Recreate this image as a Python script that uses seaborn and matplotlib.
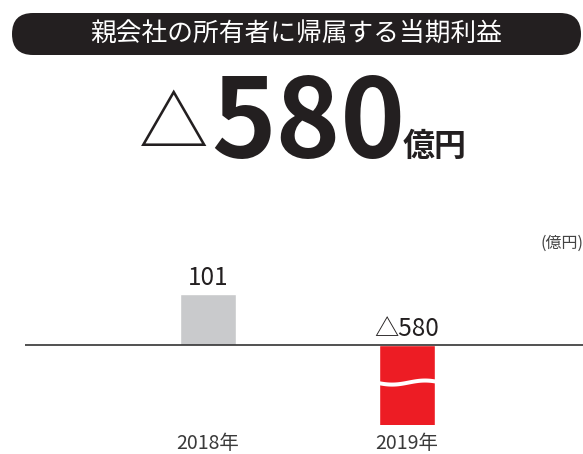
import matplotlib
matplotlib.use("Agg")
import matplotlib.pyplot as plt
from matplotlib.patches import FancyBboxPatch
import numpy as np
import pandas as pd
import seaborn as sns

# data
years = ["2018年", "2019年"]
values = [101, -580]
bar_colors = ["#c9cacc", "#ed1c24"]
title = "親会社の所有者に帰属する当期利益"
headline_value = "580"
headline_unit = "億円"
unit_label = "(億円)"

sns.set_theme(style="white")
plt.rcParams["font.family"] = ["Noto Sans CJK JP", "DejaVu Sans"]

DARK = "#231f20"
W, H = 583, 454
fig = plt.figure(figsize=(W / 100, H / 100), dpi=100)

# background layer in pixel coordinates for the header
bg = fig.add_axes([0, 0, 1, 1])
bg.set_xlim(0, W)
bg.set_ylim(H, 0)
bg.axis("off")

pill = FancyBboxPatch((12, 13), 569, 42,
                      boxstyle="round,pad=0,rounding_size=21",
                      mutation_aspect=1, fc=DARK, ec="none")
bg.add_patch(pill)
bg.text(296, 34, title, color="white", fontsize=18.5, ha="center", va="center")

bg.text(174, 127, "△", color=DARK, fontsize=50, ha="center", va="center")
bg.text(211, 157, headline_value, color=DARK, fontsize=79, fontweight="bold",
        ha="left", va="baseline")
bg.text(403, 156, headline_unit, color=DARK, fontsize=23, fontweight="bold",
        ha="left", va="baseline")
bg.text(583, 243, unit_label, color="#444444", fontsize=11.5, ha="right", va="center")

# chart
ax = fig.add_axes([25 / W, (H - 425) / H, (W - 25) / W, 195 / H])
ax.patch.set_alpha(0)
df = pd.DataFrame({"year": years, "value": values})
sns.barplot(data=df, x="year", y="value", hue="year", palette=bar_colors,
            width=0.281, legend=False, ax=ax, saturation=1)

ax.set_xlim(-0.92, 1.884)
ax.set_ylim(-158, 228)
ax.axhline(0, color="#333333", lw=1.2, zorder=5)

for i, v in enumerate(values):
    label = f"{v}" if v >= 0 else f"△{abs(v)}"
    ax.annotate(label, (i, max(v, 0)), xytext=(0, 2), textcoords="offset points",
                ha="center", va="bottom", fontsize=17.5, color=DARK)

# wavy break mark on the truncated bar
i_neg = values.index(min(values))
xs = np.linspace(i_neg - 0.16, i_neg + 0.17, 100)
wave = -73 + 4 * np.sin((xs - (i_neg - 0.16)) / 0.33 * 2 * np.pi + np.pi)
ax.fill_between(xs, wave - 4, wave + 4, color="white", lw=0, zorder=4)

sns.despine(ax=ax, left=True, bottom=True)
ax.set_yticks([])
ax.set_xlabel("")
ax.set_ylabel("")
ax.tick_params(axis="x", length=0, pad=6, labelsize=14, labelcolor="#3a3a3a")

fig.savefig("out.png", dpi=100)
